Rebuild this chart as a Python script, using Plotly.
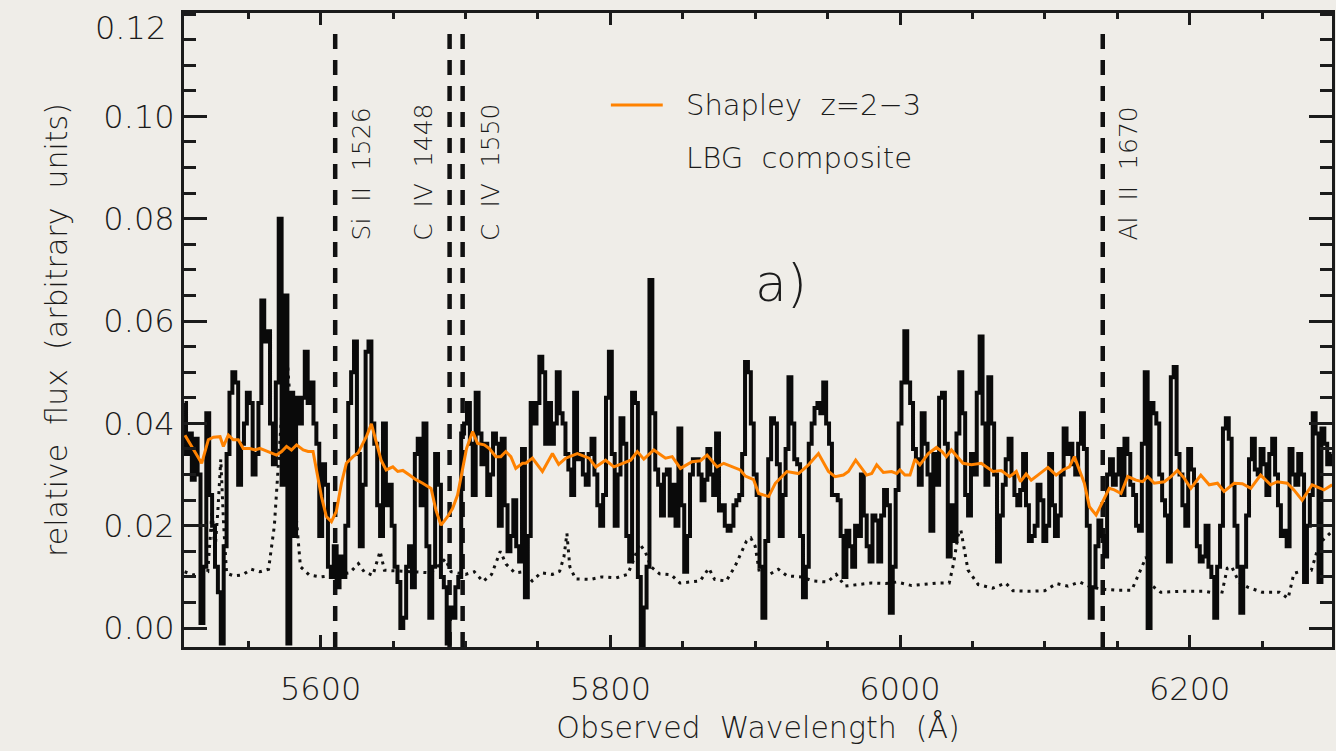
import numpy as np
import plotly.graph_objects as go

# Observed spectrum, 2 A bins starting at 5506 A
spec_start = 5506.0
spec_step = 2.0
spec_flux = [
    # 5506 - 5636
    0.044, 0.034, 0.038, 0.029, 0.037, 0.030, 0.001, 0.012, 0.042, 0.026,
    0.020, 0.012, 0.007, -0.003, 0.016, 0.034, 0.046, 0.050, 0.048, 0.028,
    0.036, 0.040, 0.046, 0.044, 0.030, 0.034, 0.044, 0.064, 0.056, 0.058,
    0.040, 0.032, 0.048, 0.080, 0.028, 0.065, -0.003, 0.046, 0.018, 0.045,
    0.040, 0.045, 0.054, 0.044, 0.048, 0.040, 0.036, 0.018, 0.032, 0.028,
    0.012, 0.010, 0.016, 0.008, 0.014, 0.010, 0.020, 0.044, 0.050, 0.056,
    0.034, 0.016, 0.028, 0.054, 0.056, 0.040,
    # 5638 - 5766
    0.036, 0.024, 0.018, 0.040, 0.024, 0.028, 0.020, 0.012, 0.009, 0.000,
    0.002, 0.012, 0.016, 0.008, 0.034, 0.037, 0.024, 0.040, 0.016, 0.002,
    0.012, 0.034, 0.028, 0.010, 0.008, -0.003, 0.004, 0.002, 0.008, 0.010,
    0.038, 0.040, 0.044, 0.036, 0.026, 0.046, 0.038, 0.032, 0.036, 0.026,
    0.030, 0.038, 0.036, 0.020, 0.037, 0.024, 0.015, 0.018, 0.025, 0.016,
    0.013, 0.035, 0.006, 0.018, 0.044, 0.040, 0.044, 0.053, 0.050, 0.036,
    0.044, 0.036, 0.040, 0.050, 0.042,
    # 5768 - 5898
    0.040, 0.034, 0.031, 0.026, 0.046, 0.033, 0.034, 0.030, 0.028, 0.034,
    0.037, 0.030, 0.024, 0.020, 0.026, 0.045, 0.054, 0.034, 0.020, 0.030,
    0.041, 0.036, 0.018, 0.013, 0.046, 0.044, 0.010, -0.004, 0.004, 0.012,
    0.068, 0.042, 0.031, 0.028, 0.022, 0.030, 0.031, 0.022, 0.028, 0.020,
    0.039, 0.024, 0.011, 0.018, 0.030, 0.033, 0.033, 0.030, 0.025, 0.029,
    0.035, 0.030, 0.026, 0.038, 0.023, 0.024, 0.020, 0.019, 0.020, 0.024,
    0.025, 0.026, 0.034, 0.052, 0.050, 0.040,
    # 5900 - 6028
    0.030, 0.026, 0.012, 0.002, 0.017, 0.033, 0.041, 0.040, 0.032, 0.018,
    0.026, 0.035, 0.049, 0.040, 0.033, 0.032, 0.018, 0.006, 0.012, 0.036,
    0.040, 0.043, 0.044, 0.042, 0.048, 0.040, 0.036, 0.026, 0.026, 0.025,
    0.018, 0.010, 0.019, 0.016, 0.012, 0.020, 0.018, 0.030, 0.022, 0.016,
    0.013, 0.022, 0.021, 0.013, 0.022, 0.027, 0.024, 0.003, 0.012, 0.027,
    0.040, 0.048, 0.058, 0.048, 0.044, 0.035, 0.033, 0.028, 0.042, 0.036,
    0.030, 0.019, 0.034, 0.028, 0.045,
    # 6030 - 6160
    0.046, 0.036, 0.014, 0.024, 0.017, 0.038, 0.050, 0.042, 0.026, 0.022,
    0.034, 0.030, 0.046, 0.057, 0.040, 0.028, 0.049, 0.040, 0.030, 0.013,
    0.022, 0.028, 0.033, 0.037, 0.030, 0.026, 0.024, 0.027, 0.034, 0.024,
    0.017, 0.018, 0.020, 0.028, 0.025, 0.017, 0.020, 0.034, 0.024, 0.018,
    0.022, 0.030, 0.039, 0.034, 0.036, 0.032, 0.030, 0.036, 0.042, 0.035,
    0.020, 0.002, 0.008, 0.016, 0.021, 0.018, 0.014, 0.030, 0.033, 0.028,
    0.030, 0.035, 0.026, 0.037, 0.034, 0.028,
    # 6162 - 6298
    0.026, 0.020, 0.019, 0.036, 0.050, 0.000, 0.044, 0.042, 0.040, 0.030,
    0.025, 0.022, 0.013, 0.049, 0.051, 0.034, 0.030, 0.024, 0.020, 0.035,
    0.031, 0.028, 0.016, 0.013, 0.014, 0.020, 0.012, 0.010, 0.002, 0.012,
    0.020, 0.039, 0.041, 0.037, 0.028, 0.020, 0.012, 0.003, 0.012, 0.022,
    0.033, 0.037, 0.031, 0.030, 0.035, 0.032, 0.026, 0.034, 0.037, 0.030,
    0.024, 0.018, 0.019, 0.016, 0.035, 0.030, 0.028, 0.034, 0.030, 0.009,
    0.020, 0.026, 0.042, 0.038, 0.009, 0.039, 0.036, 0.032, 0.034,
]
spec_wave = spec_start + spec_step * np.arange(len(spec_flux))

# Shapley et al. z=2-3 LBG composite, redshifted and scaled
comp_wave = [
    5506.3, 5511.0, 5517.8, 5522.4, 5525.9, 5530.5, 5532.8, 5536.2, 5539.6, 5543.1,
    5546.5, 5551.1, 5554.6, 5558.0, 5563.8, 5569.5, 5573.0, 5576.4, 5579.8, 5583.3,
    5587.9, 5591.3, 5594.7, 5600.5, 5603.9, 5607.4, 5610.8, 5614.3, 5617.7, 5622.3,
    5625.7, 5631.5, 5635.0, 5638.3, 5641.7, 5645.2, 5649.8, 5653.2, 5656.7, 5661.3,
    5665.8, 5670.4, 5676.2, 5679.6, 5683.1, 5687.7, 5691.1, 5694.5, 5698.4, 5700.7,
    5704.9, 5708.3, 5712.9, 5716.4, 5720.9, 5724.4, 5727.8, 5731.3, 5734.7, 5739.3,
    5741.6, 5746.2, 5753.1, 5760.0, 5764.3, 5769.2, 5777.2, 5785.3, 5789.9, 5796.7,
    5802.5, 5808.2, 5814.0, 5818.6, 5823.1, 5830.0, 5838.1, 5842.7, 5848.4, 5856.4,
    5862.2, 5866.8, 5873.7, 5878.3, 5885.1, 5889.7, 5893.2, 5898.9, 5902.4, 5909.3,
    5913.9, 5921.9, 5929.9, 5936.8, 5943.7, 5950.6, 5955.2, 5960.9, 5964.4, 5969.4,
    5977.0, 5980.5, 5983.9, 5988.5, 5994.2, 5997.7, 6000.0, 6003.4, 6006.9, 6010.3,
    6013.7, 6019.5, 6025.2, 6029.0, 6032.0, 6035.5, 6043.5, 6049.3, 6056.1, 6064.2,
    6069.9, 6075.7, 6080.3, 6083.2, 6087.1, 6090.6, 6095.2, 6102.1, 6107.8, 6112.4,
    6117.0, 6120.4, 6127.3, 6130.8, 6135.4, 6140.0, 6144.5, 6148.0, 6152.6, 6157.2,
    6163.0, 6167.5, 6171.0, 6175.6, 6182.5, 6187.1, 6191.6, 6196.2, 6200.8, 6207.7,
    6213.5, 6219.2, 6223.8, 6230.7, 6236.4, 6242.2, 6249.0, 6255.9, 6260.5, 6267.4,
    6272.0, 6277.7, 6284.6, 6292.7, 6298.4,
]
comp_flux = [
    0.0377, 0.0355, 0.0322, 0.0368, 0.0373, 0.0374, 0.0355, 0.0377, 0.0368, 0.0368,
    0.0351, 0.0351, 0.0348, 0.0351, 0.0345, 0.0338, 0.0345, 0.0355, 0.0348, 0.0358,
    0.0348, 0.0345, 0.0345, 0.0257, 0.0218, 0.0208, 0.0228, 0.0283, 0.0322, 0.0335,
    0.0342, 0.0374, 0.0399, 0.0361, 0.0328, 0.0309, 0.0315, 0.0306, 0.0308, 0.0299,
    0.0290, 0.0283, 0.0273, 0.0230, 0.0201, 0.0218, 0.0234, 0.0260, 0.0315, 0.0351,
    0.0384, 0.0361, 0.0358, 0.0351, 0.0335, 0.0335, 0.0345, 0.0335, 0.0312, 0.0322,
    0.0322, 0.0332, 0.0306, 0.0341, 0.0320, 0.0332, 0.0341, 0.0332, 0.0315, 0.0328,
    0.0315, 0.0322, 0.0328, 0.0345, 0.0330, 0.0348, 0.0332, 0.0335, 0.0312, 0.0325,
    0.0327, 0.0338, 0.0315, 0.0322, 0.0315, 0.0309, 0.0297, 0.0290, 0.0263, 0.0257,
    0.0283, 0.0306, 0.0302, 0.0319, 0.0341, 0.0306, 0.0296, 0.0299, 0.0306, 0.0328,
    0.0299, 0.0302, 0.0319, 0.0304, 0.0306, 0.0302, 0.0309, 0.0299, 0.0299, 0.0330,
    0.0319, 0.0341, 0.0353, 0.0345, 0.0335, 0.0348, 0.0322, 0.0319, 0.0322, 0.0306,
    0.0308, 0.0296, 0.0306, 0.0286, 0.0301, 0.0289, 0.0299, 0.0314, 0.0299, 0.0309,
    0.0315, 0.0335, 0.0283, 0.0237, 0.0221, 0.0247, 0.0273, 0.0270, 0.0263, 0.0296,
    0.0289, 0.0286, 0.0296, 0.0283, 0.0286, 0.0296, 0.0308, 0.0293, 0.0273, 0.0299,
    0.0280, 0.0283, 0.0267, 0.0283, 0.0282, 0.0273, 0.0299, 0.0280, 0.0286, 0.0283,
    0.0270, 0.0250, 0.0280, 0.0270, 0.0280,
]

# Noise / sky spectrum (dotted)
sky_wave = [
    5506, 5512, 5518, 5522, 5525, 5527, 5529, 5531, 5533, 5535,
    5540, 5546, 5552, 5558, 5564, 5568, 5571, 5574, 5577, 5580,
    5583, 5586, 5592, 5600, 5606, 5612, 5620, 5626, 5630, 5636,
    5641, 5644, 5650, 5658, 5666, 5676, 5686, 5690, 5700, 5706,
    5712, 5718, 5724, 5728, 5734, 5740, 5746, 5752, 5760, 5765,
    5768, 5770, 5772, 5776, 5786, 5794, 5804, 5812, 5817, 5820,
    5824, 5828, 5834, 5842, 5848, 5854, 5862, 5868, 5872, 5880,
    5886, 5890, 5894, 5897, 5900, 5903, 5910, 5916, 5922, 5932,
    5940, 5950, 5956, 5962, 5972, 5980, 5990, 5998, 6008, 6018,
    6026, 6034, 6037, 6040, 6042, 6044, 6047, 6054, 6064, 6073,
    6078, 6090, 6100, 6108, 6116, 6124, 6132, 6140, 6150, 6160,
    6170, 6173, 6180, 6195, 6210, 6218, 6222, 6226, 6229, 6234,
    6240, 6250, 6262, 6268, 6272, 6278, 6284, 6288, 6292, 6298,
]
sky_flux = [
    0.0110, 0.0104, 0.0108, 0.0110, 0.0230, 0.0150, 0.0230, 0.0330, 0.0200, 0.0107,
    0.0102, 0.0104, 0.0115, 0.0110, 0.0115, 0.0200, 0.0330, 0.0460, 0.0520, 0.0400,
    0.0220, 0.0120, 0.0104, 0.0100, 0.0102, 0.0104, 0.0108, 0.0126, 0.0110, 0.0103,
    0.0150, 0.0113, 0.0112, 0.0110, 0.0110, 0.0108, 0.0135, 0.0110, 0.0105, 0.0110,
    0.0091, 0.0105, 0.0150, 0.0125, 0.0108, 0.0110, 0.0092, 0.0108, 0.0105, 0.0111,
    0.0140, 0.0185, 0.0120, 0.0096, 0.0095, 0.0100, 0.0098, 0.0105, 0.0140, 0.0165,
    0.0150, 0.0120, 0.0106, 0.0104, 0.0088, 0.0090, 0.0092, 0.0117, 0.0095, 0.0092,
    0.0120, 0.0145, 0.0170, 0.0176, 0.0160, 0.0107, 0.0105, 0.0115, 0.0102, 0.0100,
    0.0092, 0.0090, 0.0105, 0.0082, 0.0085, 0.0088, 0.0087, 0.0090, 0.0083, 0.0085,
    0.0088, 0.0088, 0.0126, 0.0180, 0.0192, 0.0160, 0.0113, 0.0085, 0.0078, 0.0088,
    0.0073, 0.0072, 0.0073, 0.0087, 0.0082, 0.0090, 0.0080, 0.0076, 0.0074, 0.0074,
    0.0139, 0.0085, 0.0070, 0.0072, 0.0072, 0.0068, 0.0065, 0.0117, 0.0120, 0.0090,
    0.0080, 0.0070, 0.0070, 0.0058, 0.0107, 0.0112, 0.0113, 0.0150, 0.0172, 0.0188,
]

# Absorption features at the source redshift
line_waves = [5610.0, 5689.0, 5698.0, 6140.0]
line_labels = ["Si  II  1526", "C  IV  1448", "C  IV  1550", "Al  II  1670"]
label_shift = [26, -26, 28, 26]

y_ticks = [0.00, 0.02, 0.04, 0.06, 0.08, 0.10, 0.12]
x_ticks = [5600, 5800, 6000, 6200]

x_range = [5505.6, 6298.3]
y_range = [-0.0037, 0.1202]

FONT = "DejaVu Sans"
W8 = 200
INK = "#1b1b1b"
BG = "#efede8"
TICK_SIZE = 32

fig = go.Figure()

# dashed vertical markers for the absorption lines
for w in line_waves:
    fig.add_trace(go.Scatter(
        x=[w, w], y=[y_range[0], 0.1173], mode="lines",
        line=dict(color="#111111", width=4.5, dash="15px,11px"),
        hoverinfo="skip", showlegend=False,
    ))

fig.add_trace(go.Scatter(
    x=sky_wave, y=sky_flux, mode="lines",
    line=dict(color="#111111", width=3, dash="3px,5px"),
    showlegend=False,
))

fig.add_trace(go.Scatter(
    x=spec_wave, y=spec_flux, mode="lines", line_shape="hvh",
    line=dict(color="#0a0a0a", width=4),
    showlegend=False,
))

fig.add_trace(go.Scatter(
    x=comp_wave, y=comp_flux, mode="lines",
    line=dict(color="#ff8200", width=3),
    showlegend=False,
))

annotations = []
for w, txt, dx in zip(line_waves, line_labels, label_shift):
    annotations.append(dict(
        x=w, y=0.0753, xref="x", yref="y", text=txt, showarrow=False,
        textangle=-90, xanchor="center", yanchor="bottom", xshift=dx,
        font=dict(family=FONT, size=25, color=INK, weight=W8),
    ))

# legend entry for the composite
L, W, B, H = 184, 1151, 647, 634
def px(xp):
    return (xp - L) / W
def py(yp):
    return (B - yp) / H

annotations += [
    dict(x=px(685), y=py(105), xref="paper", yref="paper", text="Shapley  z=2\u22123",
         showarrow=False, xanchor="left", yanchor="middle",
         font=dict(family=FONT, size=29, color=INK, weight=W8)),
    dict(x=px(685), y=py(158), xref="paper", yref="paper", text="LBG  composite",
         showarrow=False, xanchor="left", yanchor="middle",
         font=dict(family=FONT, size=29, color=INK, weight=W8)),
    dict(x=px(783), y=py(283), xref="paper", yref="paper", text="a)",
         showarrow=False, xanchor="center", yanchor="middle",
         font=dict(family=FONT, size=52, color=INK, weight=W8)),
    # top tick label sits just below the frame
    dict(x=px(168), y=py(28), xref="paper", yref="paper", text=f"{y_ticks[-1]:.2f}",
         showarrow=False, xanchor="right", yanchor="middle",
         font=dict(family=FONT, size=TICK_SIZE, color=INK, weight=W8)),
]

shapes = [dict(type="line", xref="paper", yref="paper",
               x0=px(612), x1=px(664), y0=py(105), y1=py(105),
               line=dict(color="#ff8200", width=3))]

axis_common = dict(
    showline=True, linecolor=INK, linewidth=3, mirror="allticks",
    ticks="inside", tickcolor=INK, tickwidth=3, showgrid=False, zeroline=False,
    tickfont=dict(family=FONT, size=TICK_SIZE, color=INK, weight=W8),
)

fig.update_layout(
    width=1336, height=751,
    margin=dict(l=184, r=1, t=13, b=104),
    paper_bgcolor=BG, plot_bgcolor=BG,
    xaxis=dict(
        range=x_range, tickmode="array", tickvals=x_ticks,
        ticktext=[str(v) for v in x_ticks], ticklen=12,
        minor=dict(dtick=50, tick0=5600, ticklen=6, tickwidth=3, tickcolor=INK, ticks="inside"),
        title=dict(text="Observed  Wavelength  (\u00c5)", standoff=10,
                   font=dict(family=FONT, size=30, color=INK, weight=W8)),
        ticklabelstandoff=12,
        **axis_common,
    ),
    yaxis=dict(
        range=y_range, tickmode="array", tickvals=y_ticks[:-1],
        ticktext=[f"{v:.2f}" for v in y_ticks[:-1]], ticklen=23,
        minor=dict(dtick=0.005, tick0=0, ticklen=12, tickwidth=3, tickcolor=INK, ticks="inside"),
        title=dict(text="relative  flux  (arbitrary  units)", standoff=27,
                   font=dict(family=FONT, size=30, color=INK, weight=W8)),
        ticklabelstandoff=0,
        **axis_common,
    ),
    annotations=annotations,
    shapes=shapes,
)

fig.write_html("out.html")
